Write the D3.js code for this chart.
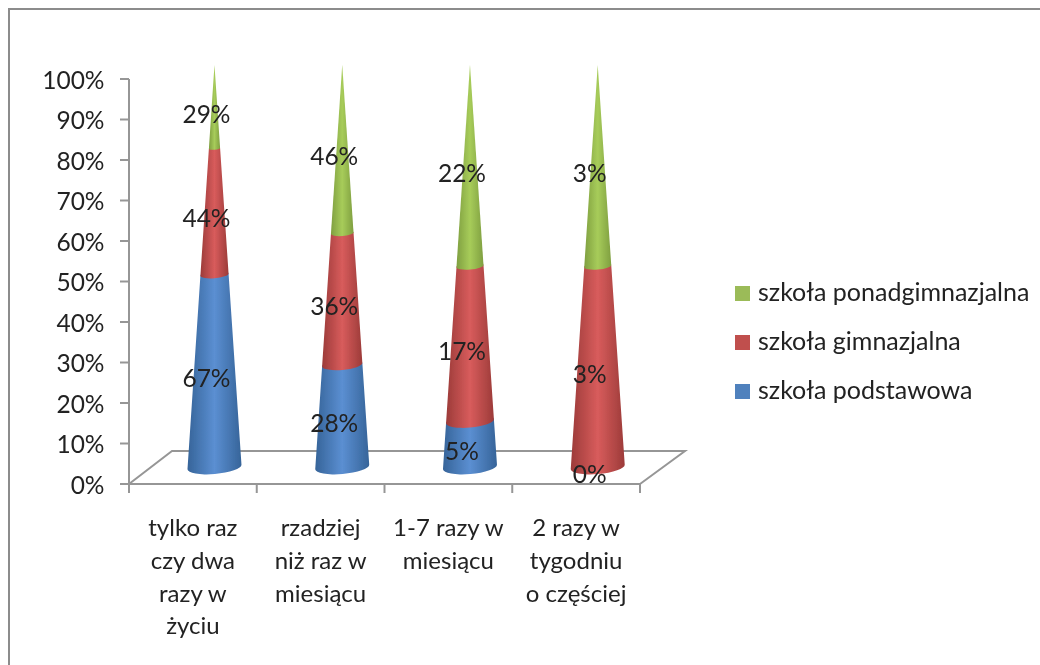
<!DOCTYPE html>
<html><head><meta charset="utf-8">
<script src="https://cdn.jsdelivr.net/npm/d3@7"></script>
<style>html,body{margin:0;padding:0;background:#fff}svg{display:block}text{font-family:Lato,"Open Sans",sans-serif;fill:#222}</style>
</head><body><svg id="c" width="1040" height="665"></svg>
<script>
const categories=[["tylko raz","czy dwa","razy w","życiu"],["rzadziej","niż raz w","miesiącu"],["1-7 razy w","miesiącu"],["2 razy w","tygodniu","o częściej"]];
const podstawowa=[67,28,5,0];
const gimnazjalna=[44,36,17,3];
const ponadgimnazjalna=[29,46,22,3];
const seriesNames=["szkoła podstawowa","szkoła gimnazjalna","szkoła ponadgimnazjalna"];
const seriesColors=[["#366499","#5b8fd2"],["#9c3b39","#d85c5c"],["#7f9f40","#a7cc5a"]];
const legendColors=["#4f81bd","#c0504d","#9bbb59"];
const yTicks=[0,10,20,30,40,50,60,70,80,90,100];

const svg=d3.select("#c");
const defs=svg.append("defs");
seriesColors.forEach((c,i)=>{
  const g=defs.append("linearGradient").attr("id","g"+i);
  g.append("stop").attr("offset","0").attr("stop-color",c[0]);
  g.append("stop").attr("offset","0.5").attr("stop-color",c[1]);
  g.append("stop").attr("offset","1").attr("stop-color",c[0]);
});
const blur=defs.append("filter").attr("id","soft");
blur.append("feGaussianBlur").attr("stdDeviation",0.45);

svg.append("rect").attr("x",9).attr("y",9).attr("width",1100).attr("height",720)
  .attr("fill","none").attr("stroke","#8c8c8c").attr("stroke-width",2);

const root=svg.append("g").attr("filter","url(#soft)");
const x=d3.scaleBand().domain(d3.range(categories.length)).range([129,640]).paddingInner(0).paddingOuter(0);
const y=d3.scaleLinear().domain([0,100]).range([484,79]);
const depthX=43, depthY=33;
const axisColor="#969696";

root.append("path").attr("fill","none").attr("stroke",axisColor).attr("stroke-width",2)
  .attr("d",d3.line()([[x.range()[0],y(0)],[x.range()[0]+depthX,y(0)-depthY],[x.range()[1]+depthX+2,y(0)-depthY],[x.range()[1],y(0)]]));
root.append("path").attr("fill","none").attr("stroke",axisColor).attr("stroke-width",2)
  .attr("d",d3.line()([[x.range()[0],y(100)],[x.range()[0],y(0)],[x.range()[1],y(0)]]));
root.selectAll(".yt").data(yTicks).join("line").attr("x1",120).attr("x2",129)
  .attr("y1",d=>y(d)).attr("y2",d=>y(d)).attr("stroke",axisColor).attr("stroke-width",2);
root.selectAll(".yl").data(yTicks).join("text").attr("x",104.5).attr("y",d=>y(d)+9.5)
  .attr("text-anchor","end").attr("font-size",24.5).text(d=>d+"%");
const xTicks=d3.range(categories.length+1).map(i=>i<categories.length?x(i):x.range()[1]);
root.selectAll(".xt").data(xTicks).join("line").attr("x1",d=>d).attr("x2",d=>d)
  .attr("y1",484).attr("y2",493).attr("stroke",axisColor).attr("stroke-width",2);
categories.forEach((lines,i)=>{
  const t=root.append("text").attr("text-anchor","middle").attr("font-size",24);
  lines.forEach((l,j)=>t.append("tspan").attr("x",x(i)+x.bandwidth()/2).attr("y",536+j*32.8).text(l));
});

const coneY=d3.scaleLinear().domain([0,1]).range([467,65]);
const halfW=d3.scaleLinear().domain([0,1]).range([27,0]);
const cx=i=>x(i)+x.bandwidth()/2+21.6;
const series=[podstawowa,gimnazjalna,ponadgimnazjalna];
categories.forEach((_,i)=>{
  const vals=series.map(s=>s[i]), total=d3.sum(vals);
  let acc=0;
  vals.forEach((v,k)=>{
    const f0=acc/total, f1=(acc+v)/total; acc+=v;
    if(v===0) return;
    const c=cx(i), w0=halfW(f0), w1=halfW(f1), y0=coneY(f0), y1=coneY(f1);
    const ry=w=>w*0.26, tilt=w=>w*0.085;
    const d=`M${c-w1},${y1+tilt(w1)}`+
      (w1>0?`A${w1},${ry(w1)} -5 0 1 ${c+w1},${y1-tilt(w1)}`:"")+
      `L${c+w0},${y0-tilt(w0)}A${w0},${ry(w0)} -5 0 1 ${c-w0},${y0+tilt(w0)}Z`;
    root.append("path").attr("d",d).attr("fill",`url(#g${k})`);
  });
});
categories.forEach((_,i)=>{
  const vals=series.map(s=>s[i]), total=d3.sum(vals);
  let acc=0;
  vals.forEach(v=>{
    const mid=(acc+v/2)/total; acc+=v;
    root.append("text").attr("x",cx(i)-8).attr("y",coneY(mid)+16).attr("text-anchor","middle")
      .attr("font-size",24.5).text(v+"%");
  });
});
const legY=d3.scalePoint().domain([2,1,0]).range([293,391]);
[2,1,0].forEach(k=>{
  root.append("rect").attr("x",735).attr("y",legY(k)-7).attr("width",15).attr("height",15)
    .attr("fill",legendColors[k]);
  root.append("text").attr("x",758).attr("y",legY(k)+8).attr("font-size",25).text(seriesNames[k]);
});
</script></body></html>
